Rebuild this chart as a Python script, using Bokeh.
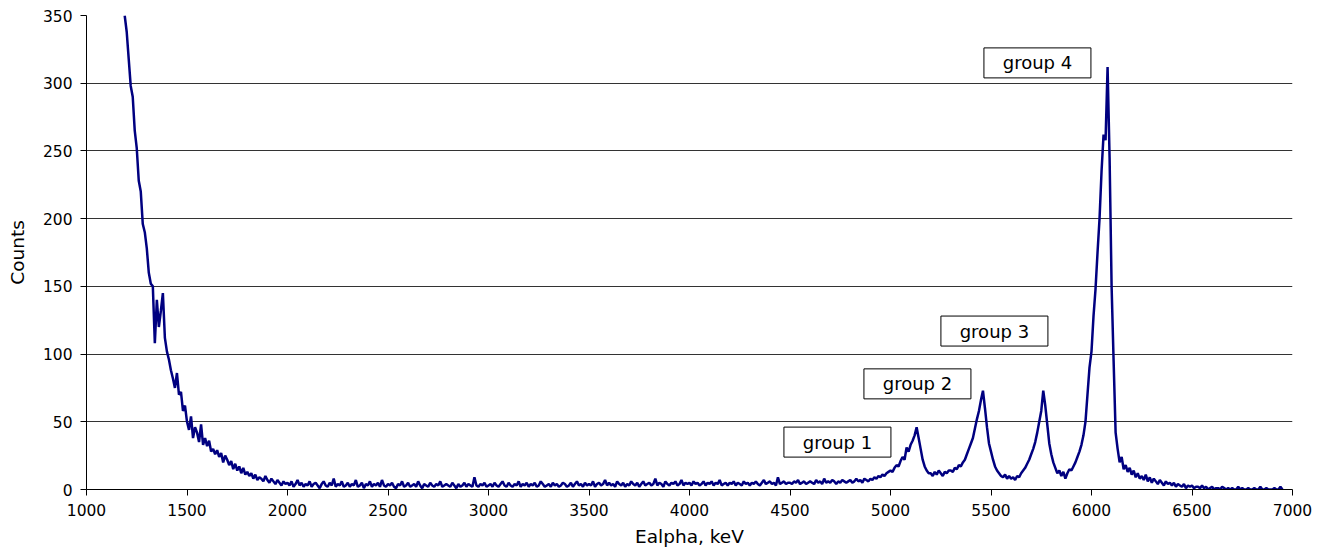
from bokeh.plotting import figure
from bokeh.models import Range1d, FixedTicker, ColumnDataSource
from bokeh.core.properties import value
from bokeh.embed import file_html
from bokeh.resources import INLINE

# ---------------- data ----------------
e_start = 1190
e_step = 10
counts = [
    350,
    338, 318, 298, 290, 265, 252, 228, 220, 196, 190,   # 1200
    178, 160, 152, 150, 108, 140, 120, 132, 145, 112,   # 1300
    102, 96, 88, 82, 75, 86, 70, 72, 58, 62,            # 1400
    50, 44, 54, 38, 46, 42, 35, 48, 33, 38,             # 1500
    32, 36, 28, 30, 26, 29, 24, 27, 20, 25,             # 1600
    22, 18, 21, 15, 19, 14, 17, 12, 16, 11,             # 1700
    13, 10, 12, 8, 11, 7, 9, 8, 6, 10,                  # 1800
    7, 5, 8, 6, 4, 7, 5, 3, 6, 4,                       # 1900
    5, 3, 6, 2, 4, 7, 3, 5, 2, 4,                       # 2000
    3, 6, 2, 4, 5, 3, 1, 4, 6, 3,                       # 2100
    2, 5, 3, 8, 2, 4, 3, 6, 2, 3,                       # 2200
    5, 2, 4, 3, 7, 2, 3, 5, 1, 4,                       # 2300
    3, 6, 2, 4, 3, 5, 2, 7, 3, 2,                       # 2400
    4, 3, 5, 2, 1, 4, 3, 6, 2, 3,                       # 2500
    5, 2, 3, 4, 2, 6, 3, 1, 4, 3,                       # 2600
    2, 5, 3, 2, 4, 3, 6, 2, 3, 4,                       # 2700
    3, 2, 5, 3, 1, 4, 2, 3, 5, 2,                       # 2800
    4, 3, 2, 9, 3, 2, 4, 3, 5, 2,                       # 2900
    3, 4, 2, 5, 3, 2, 4, 6, 3, 2,                       # 3000
    5, 3, 2, 4, 3, 6, 2, 4, 3, 5,                       # 3100
    2, 4, 3, 5, 2, 3, 6, 4, 2, 3,                       # 3200
    4, 2, 5, 3, 4, 2, 3, 5, 4, 2,                       # 3300
    3, 5, 2, 4, 6, 3, 4, 2, 5, 3,                       # 3400
    4, 3, 6, 2, 4, 5, 3, 4, 7, 3,                       # 3500
    5, 3, 4, 2, 6, 4, 3, 5, 2, 4,                       # 3600
    3, 6, 4, 3, 5, 2, 4, 6, 3, 4,                       # 3700
    5, 3, 4, 8, 3, 5, 4, 2, 6, 4,                       # 3800
    3, 5, 4, 6, 3, 4, 7, 3, 5, 4,                       # 3900
    5, 3, 6, 4, 5, 3, 4, 6, 3, 5,                       # 4000
    4, 6, 3, 5, 4, 7, 3, 4, 5, 3,                       # 4100
    5, 4, 6, 3, 5, 4, 3, 6, 4, 5,                       # 4200
    3, 5, 4, 6, 4, 3, 5, 7, 4, 5,                       # 4300
    6, 4, 5, 3, 9, 4, 5, 6, 4, 5,                       # 4400
    5, 4, 6, 5, 7, 4, 5, 6, 4, 5,                       # 4500
    6, 5, 4, 7, 5, 6, 4, 8, 5, 6,                       # 4600
    5, 7, 6, 4, 6, 5, 7, 6, 5, 6,                       # 4700
    7, 5, 6, 8, 6, 7, 5, 8, 7, 6,                       # 4800
    8, 7, 9, 8, 10, 9, 11, 10, 12, 13,                  # 4900
    14, 13, 16, 18, 17, 21, 24, 22, 31, 28,             # 5000
    33, 36, 40, 46, 38, 30, 22, 17, 14, 12,             # 5100
    12, 10, 13, 11, 14, 12, 10, 13, 12, 14,             # 5200
    14, 13, 16, 15, 18, 17, 20, 22, 26, 30,             # 5300
    34, 38, 45, 52, 58, 66, 73, 60, 46, 34,             # 5400
    28, 22, 17, 14, 12, 10, 9, 11, 8, 10,               # 5500
    8, 9, 7, 10, 9, 12, 14, 16, 19, 22,                 # 5600
    26, 30, 35, 42, 50, 58, 73, 62, 48, 34,             # 5700
    26, 20, 16, 12, 14, 10, 13, 8, 12, 15,              # 5800
    14, 17, 20, 24, 28, 33, 40, 50, 70, 90,             # 5900
    102, 128, 148, 175, 200, 235, 262, 258, 312, 245,   # 6000
    150, 95, 42, 30, 20, 24, 15, 18, 13, 16,            # 6100
    11, 14, 9, 12, 8, 10, 7, 11, 6, 9,                  # 6200
    5, 8, 6, 4, 7, 5, 3, 6, 4, 5,                       # 6300
    3, 5, 2, 4, 3, 2, 4, 1, 3, 2,                       # 6400
    3, 1, 2, 2, 1, 3, 1, 2, 0, 1,                       # 6500
    2, 0, 1, 1, 0, 2, 1, 0, 1, 0,                       # 6600
    1, 0, 0, 2, 0, 1, 0, 0, 1, 0,                       # 6700
    0, 1, 0, 0, 2, 0, 0, 1, 0, 0,                       # 6800
    0, 1, 0, 0, 2, 0,                                   # 6900
]
energy = [e_start + e_step * i for i in range(len(counts))]

group_labels = ["group 1", "group 2", "group 3", "group 4"]
group_x = [4736, 5134, 5517, 5731]
group_y = [35, 78, 117, 315]

x_ticks = list(range(1000, 7001, 500))
y_ticks = list(range(0, 351, 50))

FONT = "DejaVu Sans"

# ---------------- figure ----------------
p = figure(width=1315, height=552, output_backend="svg", toolbar_location=None,
           x_range=Range1d(1000, 7000), y_range=Range1d(0, 350),
           min_border_left=86, min_border_right=23, min_border_top=15, min_border_bottom=63)
p.outline_line_color = None
p.background_fill_color = "white"
p.border_fill_color = "white"

p.line(energy, counts, line_color="#000080", line_width=2.5)

p.xgrid.grid_line_color = None
p.ygrid.grid_line_color = "#333333"
p.ygrid.grid_line_width = 1
p.ygrid.ticker = FixedTicker(ticks=y_ticks[1:-1])

for ax in (p.xaxis[0], p.yaxis[0]):
    ax.axis_line_color = "black"
    ax.axis_line_width = 1
    ax.major_tick_line_color = "black"
    ax.major_tick_in = 0
    ax.major_tick_out = 6
    ax.minor_tick_line_color = None
    ax.major_label_text_font = FONT
    ax.major_label_text_font_size = "15.5px"
    ax.major_label_text_color = "black"
    ax.axis_label_text_font = FONT
    ax.axis_label_text_font_size = "18.5px"
    ax.axis_label_text_font_style = "normal"
    ax.axis_label_text_color = "black"

p.xaxis[0].ticker = FixedTicker(ticks=x_ticks)
p.yaxis[0].ticker = FixedTicker(ticks=y_ticks)
p.xaxis[0].axis_label = "Ealpha, keV"
p.yaxis[0].axis_label = "Counts"
p.xaxis[0].major_label_standoff = 8
p.yaxis[0].major_label_standoff = 8
p.xaxis[0].axis_label_standoff = 7
p.yaxis[0].axis_label_standoff = 12

src = ColumnDataSource(dict(x=group_x, y=group_y, t=group_labels))
p.rect("x", "y", width=107, height=30, width_units="screen", height_units="screen",
       source=src, fill_color="white", line_color="black", line_width=1)
p.text("x", "y", text="t", source=src, text_align="center", text_baseline="middle",
       text_font=value(FONT), text_font_size="18px", text_color="black")

open("out.html", "w").write(file_html(p, INLINE))
